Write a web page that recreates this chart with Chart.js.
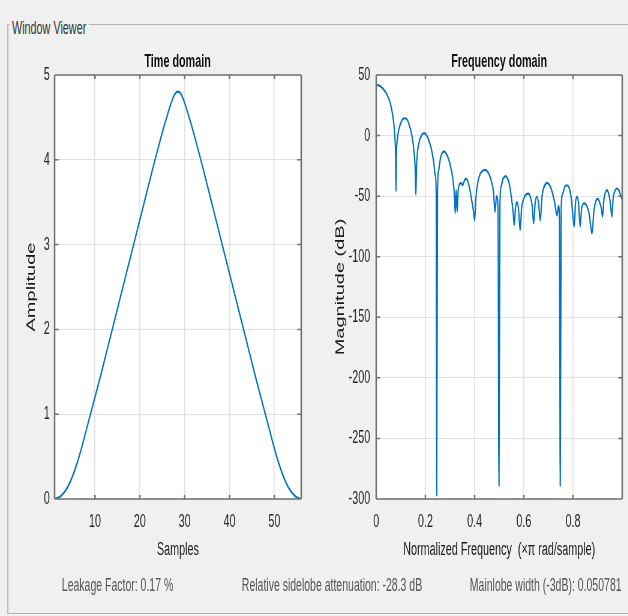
<!DOCTYPE html>
<html>
<head>
<meta charset="utf-8">
<script src="https://cdn.jsdelivr.net/npm/chart.js@4/dist/chart.umd.min.js"></script>
<style>
  html, body { margin: 0; padding: 0; background: #f0f0f0; }
  body { width: 628px; height: 616px; overflow: hidden; position: relative; }
  /* 元画像は横方向に潰れているので、論理幅 1047px で描いて 0.6 倍に縮める */
  #fig { position: absolute; left: 0; top: 0; width: 1047px; height: 616px;
         transform: scaleX(0.6); transform-origin: 0 0;
         font-family: "Liberation Sans", Arial, sans-serif; }
  #fig canvas { position: absolute; top: 0; }
  .frame { position: absolute; left: 12px; top: 24px; width: 1035px; height: 588px;
           border-top: 1px solid #b4b4b4; border-left: 2px solid #b4b4b4; border-bottom: 1px solid #b4b4b4; }
  .txt { position: absolute; white-space: nowrap; }
  .legend { left: 16px; top: 18px; padding: 0 4px; font-size: 18px; line-height: 20px; color: #333; background: #f0f0f0; }
  .title { width: 400px; text-align: center; top: 50px; font-size: 18px; line-height: 22px; font-weight: bold; color: #111; }
  .info { top: 575px; font-size: 17.5px; line-height: 20px; color: #555; }
</style>
</head>
<body>
<div id="fig">
  <div class="frame"></div>
  <div class="txt legend">Window Viewer</div>
  <canvas id="timeChart" width="533" height="616" style="left:0;width:533px;height:616px"></canvas>
  <canvas id="freqChart" width="514" height="616" style="left:533px;width:514px;height:616px"></canvas>
  <div class="txt title" style="left:96px">Time domain</div>
  <div class="txt title" style="left:632px">Frequency domain</div>
  <div class="txt info" style="left:103px">Leakage Factor: 0.17 %</div>
  <div class="txt info" style="left:403px">Relative sidelobe attenuation: -28.3 dB</div>
  <div class="txt info" style="left:783px">Mainlobe width (-3dB): 0.050781</div>
</div>
<script>
/* -------- データ -------- */
const sampleIdx = [1,2,3,4,5,6,7,8,9,10,11,12,13,14,15,16,17,18,19,20,21,22,23,24,25,26,27,28,
                   29,30,31,32,33,34,35,36,37,38,39,40,41,42,43,44,45,46,47,48,49,50,51,52,53,54,55,56];
const amplitude = [0.00,0.02,0.07,0.15,0.27,0.42,0.60,0.80,1.00,1.20,1.40,1.61,1.82,2.03,2.24,2.45,2.66,2.87,3.08,3.29,3.50,3.71,3.92,4.12,4.32,4.50,4.67,4.79,
                   4.79,4.67,4.50,4.32,4.12,3.92,3.71,3.50,3.29,3.08,2.87,2.66,2.45,2.24,2.03,1.82,1.61,1.40,1.20,1.00,0.80,0.60,0.42,0.27,0.15,0.07,0.02,0.00];

const freqNorm = [0,0.018,0.038,0.05,0.058,0.066,0.072,0.076,0.079,0.0805,0.082,0.086,0.092,0.1,0.108,0.117,0.126,0.134,0.142,0.149,
  0.155,0.159,0.161,0.164,0.168,0.175,0.184,0.194,0.204,0.214,0.224,0.233,0.24,0.244,0.246,0.249,0.253,0.26,0.267,0.275,
  0.285,0.295,0.305,0.313,0.318,0.321,0.325,0.329,0.333,0.339,0.345,0.351,0.357,0.364,0.371,0.378,0.387,0.395,0.4,0.405,
  0.412,0.42,0.43,0.443,0.452,0.461,0.47,0.477,0.483,0.489,0.495,0.499,0.503,0.508,0.515,0.522,0.527,0.535,0.543,0.55,
  0.556,0.561,0.566,0.572,0.578,0.585,0.591,0.6,0.61,0.619,0.627,0.634,0.64,0.646,0.653,0.66,0.667,0.674,0.684,0.694,
  0.705,0.716,0.726,0.735,0.741,0.745,0.748,0.752,0.758,0.766,0.775,0.784,0.793,0.805,0.81,0.816,0.822,0.829,0.835,0.846,
  0.856,0.866,0.877,0.885,0.893,0.9,0.908,0.915,0.92,0.926,0.932,0.938,0.945,0.952,0.958,0.963,0.97,0.978,0.986,0.993,1.0];
const magnitudeDb = [42,40.5,36,31,26,18,9,-2,-18,-46,-18,-3,5,10.5,13.5,14.3,13,9,3,-5,
  -16,-30,-49,-25,-13,-5,0,2,0.5,-4,-11,-21,-33,-50,-297,-50,-30,-20,-15,-13,
  -15,-20,-28,-38,-50,-64,-45,-63,-46,-40,-39,-41,-38,-35.5,-37,-42,-52,-62,-70,-52,
  -40,-33,-29.5,-28.3,-29.5,-33,-39,-47,-63,-50,-58,-289,-55,-42,-36,-34,-33.5,-36,-42,-52,
  -62,-74,-60,-55,-60,-78,-60,-52,-48.5,-48,-51,-58,-72.6,-56,-50.5,-56,-70,-50,-41.5,-39,
  -41,-47,-56,-66,-58,-70,-289,-60,-48,-42.5,-41,-43,-52,-75,-56,-50.5,-55,-75,-60,-56,
  -58,-65,-81,-62,-54,-52,-55,-60,-67,-52,-47,-45,-48,-56,-67,-52,-46,-43.7,-45,-49,-53];

const timeTicksX = [10, 20, 30, 40, 50];
const timeTicksY = [0, 1, 2, 3, 4, 5];
const freqTicksX = [0, 0.2, 0.4, 0.6, 0.8];
const freqTicksY = [-300, -250, -200, -150, -100, -50, 0, 50];

/* -------- 共通設定 -------- */
const SX = 0.6;               // 横方向の縮小率（縦線の太さ補正に使う）
const LINE_COLOR = '#0072bd';
const BOX_COLOR = '#707070';
const GRID_COLOR = '#e2e2e2';
const TEXT_COLOR = '#262626';
Chart.defaults.font.family = '"Liberation Sans", Arial, sans-serif';

// MATLAB風の白い描画領域＋枠＋内向き目盛り
const matlabAxes = {
  id: 'matlabAxes',
  beforeDraw(chart) {
    const { ctx, chartArea: a } = chart;
    ctx.save();
    ctx.fillStyle = '#fff';
    ctx.fillRect(a.left, a.top, a.right - a.left, a.bottom - a.top);
    ctx.restore();
  },
  afterDraw(chart) {
    const { ctx, chartArea: a, scales } = chart;
    const tl = 4;
    ctx.save();
    ctx.strokeStyle = BOX_COLOR;
    // 横線（上下の枠・y目盛り）
    ctx.lineWidth = 1.5;
    ctx.beginPath();
    ctx.moveTo(a.left, a.top); ctx.lineTo(a.right, a.top);
    ctx.moveTo(a.left, a.bottom); ctx.lineTo(a.right, a.bottom);
    scales.y.ticks.forEach(t => {
      const py = scales.y.getPixelForValue(t.value);
      ctx.moveTo(a.left, py); ctx.lineTo(a.left + tl / SX, py);
      ctx.moveTo(a.right, py); ctx.lineTo(a.right - tl / SX, py);
    });
    ctx.stroke();
    // 縦線（左右の枠・x目盛り）
    ctx.lineWidth = 1.5 / SX;
    ctx.beginPath();
    ctx.moveTo(a.left, a.top); ctx.lineTo(a.left, a.bottom);
    ctx.moveTo(a.right, a.top); ctx.lineTo(a.right, a.bottom);
    scales.x.ticks.forEach(t => {
      const px = scales.x.getPixelForValue(t.value);
      ctx.moveTo(px, a.bottom); ctx.lineTo(px, a.bottom - tl);
      ctx.moveTo(px, a.top); ctx.lineTo(px, a.top + tl);
    });
    ctx.stroke();
    ctx.restore();
  }
};

function axisX(min, max, ticks, title) {
  return {
    type: 'linear', min, max,
    afterBuildTicks: s => { s.ticks = ticks.map(v => ({ value: v })); },
    afterFit: s => { s.height = 64; },
    grid: { color: GRID_COLOR, lineWidth: 1 / SX, drawTicks: false },
    border: { display: false },
    ticks: { padding: 12, color: TEXT_COLOR, font: { size: 18 }, maxRotation: 0, autoSkip: false },
    title: { display: true, text: title, color: '#1a1a1a', font: { size: 18 }, padding: { top: 0, bottom: 2 } }
  };
}

function axisY(min, max, ticks, title, width, labelPad, titlePad) {
  return {
    type: 'linear', min, max,
    afterBuildTicks: s => { s.ticks = ticks.map(v => ({ value: v })); },
    afterFit: s => { s.width = width; },
    grid: { color: GRID_COLOR, lineWidth: 1, drawTicks: false },
    border: { display: false },
    ticks: { padding: labelPad, color: TEXT_COLOR, font: { size: 18 }, autoSkip: false },
    title: { display: true, text: title, color: '#1a1a1a', font: { size: 20 }, padding: { top: titlePad, bottom: 0 } }
  };
}

function makeChart(id, xs, ys, scales, padRight, extra) {
  const pts = xs.map((x, i) => ({ x, y: ys[i] }));
  return new Chart(document.getElementById(id), {
    type: 'line',
    data: {
      datasets: [Object.assign({
        data: pts,
        borderColor: LINE_COLOR,
        borderWidth: 2.2,
        pointRadius: 0,
        fill: false
      }, extra)]
    },
    options: {
      responsive: false,
      animation: false,
      layout: { padding: { left: 0, right: padRight, top: 75, bottom: 53 } },
      plugins: { legend: { display: false }, tooltip: { enabled: false } },
      scales
    },
    plugins: [matlabAxes]
  });
}

/* -------- 描画 -------- */
makeChart('timeChart', sampleIdx, amplitude, {
  x: axisX(1, 56, timeTicksX, 'Samples'),
  y: axisY(0, 5, timeTicksY, 'Amplitude', 91, 8, 40)
}, 31, { tension: 0.4 });

makeChart('freqChart', freqNorm, magnitudeDb, {
  x: axisX(0, 1, freqTicksX, 'Normalized Frequency  (\u00d7\u03c0 rad/sample)'),
  y: axisY(-300, 50, freqTicksY, 'Magnitude (dB)', 94, 10, 22)
}, 10, { cubicInterpolationMode: 'monotone' });
</script>
</body>
</html>
